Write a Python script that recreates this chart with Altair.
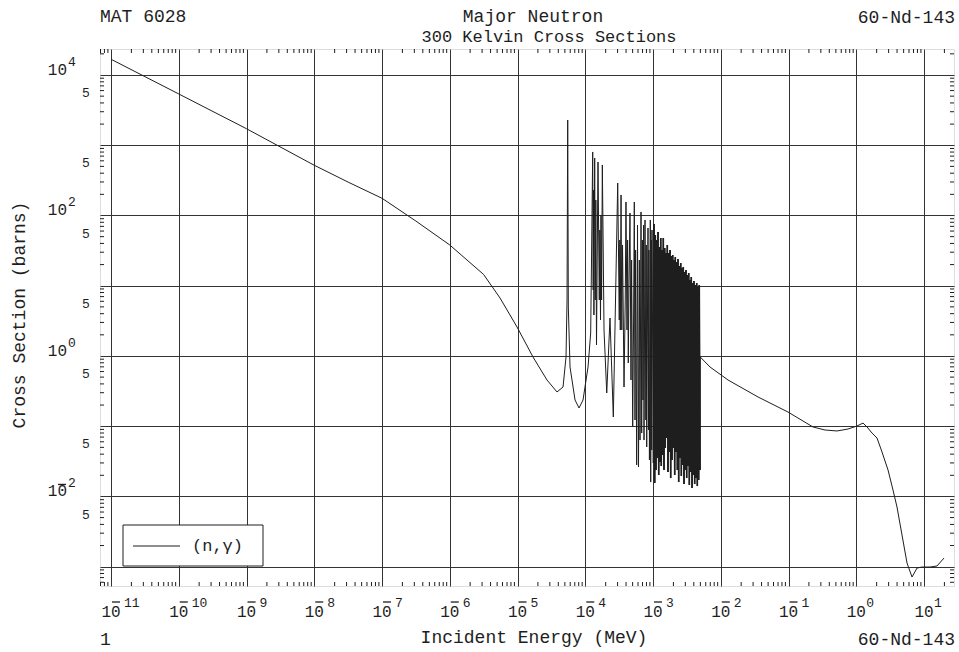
import altair as alt
import pandas as pd

FONT = "Liberation Mono"
INK = "#1e1e1e"

# ---- data: log10(E / MeV) and log10(sigma / barns) ----
# smooth 1/v region and first resonances
le_low = [-11.0, -10.0, -9.0, -8.0, -7.5, -7.0, -6.5, -6.0, -5.5, -5.258, -5.007, -4.771, -4.565,
          -4.417, -4.328, -4.284, -4.269, -4.259, -4.250, -4.225, -4.151, -4.092, -4.033,
          -3.959, -3.920]
ls_low = [4.224, 3.730, 3.235, 2.715, 2.475, 2.245, 1.921, 1.580, 1.160, 0.825, 0.412, -0.015, -0.342,
          -0.513, -0.442, -0.015, 0.797, 3.359, 0.697, -0.157, -0.627, -0.741, -0.627,
          -0.157, 0.327]
# first resonance cluster (~130-180 eV)
le_res1 = [-3.890, -3.883, -3.878, -3.872, -3.861, -3.852, -3.844, -3.834, -3.812, -3.793,
           -3.785, -3.775, -3.768, -3.759, -3.748, -3.723, -3.683]
ls_res1 = [2.904, 0.939, 2.363, 0.583, 2.818, 0.797, 2.220, 0.156, 2.761, 0.797,
           1.793, 0.512, 2.007, 0.797, 2.719, 0.370, -0.527]
# second resonance cluster (~230 eV - 1 keV)
le_res2 = [-3.635, -3.586, -3.521, -3.498, -3.490, -3.483, -3.472, -3.461, -3.450, -3.428,
           -3.410, -3.399, -3.384, -3.375, -3.365, -3.354, -3.340, -3.325, -3.316, -3.300,
           -3.288, -3.276, -3.266, -3.257, -3.241, -3.229, -3.214, -3.202, -3.192, -3.177,
           -3.167, -3.157, -3.148, -3.139, -3.133, -3.118, -3.106, -3.100, -3.093, -3.074,
           -3.067, -3.061, -3.053, -3.040, -3.034, -3.025, -3.019, -3.015, -2.996]
ls_res2 = [0.540, -0.869, 2.462, 0.512, 1.651, 0.370, 2.292, 0.370, 1.580, -0.442,
           0.797, 2.192, 0.370, 1.651, -0.100, 1.081, 2.035, -0.342, 1.366, -1.011,
           0.370, 2.192, -0.912, 1.508, -1.552, 1.864, -1.581, 1.366, -1.197, 2.050,
           -1.097, 1.651, -0.627, 1.864, -1.197, 1.936, -0.912, 1.580, -1.296, 1.822,
           -1.054, 1.508, -1.481, 1.936, -1.795, 1.651, -1.339, 1.793, -1.524]
# dense resonance band (1 keV - 5 keV)
le_dense = [-2.985, -2.975, -2.966, -2.956, -2.946, -2.937, -2.926, -2.916, -2.907, -2.897,
            -2.886, -2.878, -2.867, -2.857, -2.848, -2.838, -2.827, -2.819, -2.808, -2.798,
            -2.789, -2.779, -2.768, -2.760, -2.749, -2.739, -2.730, -2.720, -2.709, -2.700,
            -2.690, -2.680, -2.671, -2.661, -2.650, -2.641, -2.631, -2.621, -2.612, -2.602,
            -2.591, -2.582, -2.572, -2.562, -2.553, -2.543, -2.532, -2.523, -2.513, -2.503,
            -2.494, -2.483, -2.473, -2.464, -2.454, -2.444, -2.435, -2.424, -2.414, -2.405,
            -2.395, -2.385, -2.376, -2.365, -2.355, -2.346, -2.336, -2.326, -2.317, -2.306]
ls_dense = [1.879, -1.809, 1.722, -1.624, 1.651, -1.453, 1.765, -1.695, 1.551, -1.510,
            1.679, -1.567, 1.508, -1.410, 1.679, -1.624, 1.537, -1.310, 1.466, -1.168,
            1.580, -1.652, 1.466, -1.367, 1.508, -1.738, 1.423, -1.481, 1.437, -1.310,
            1.366, -1.695, 1.409, -1.367, 1.338, -1.624, 1.380, -1.795, 1.281, -1.453,
            1.323, -1.709, 1.252, -1.552, 1.267, -1.823, 1.195, -1.624, 1.224, -1.738,
            1.153, -1.567, 1.181, -1.837, 1.081, -1.652, 1.124, -1.880, 1.039, -1.695,
            1.067, -1.823, 1.010, -1.738, 1.039, -1.851, 0.982, -1.766, 1.010, -1.624]
# fast region
le_fast = [-2.302, -2.159, -1.893, -1.450, -1.008, -0.639, -0.461, -0.284, -0.122, 0.011,
           0.100, 0.159, 0.232, 0.306, 0.380, 0.469, 0.542, 0.601, 0.675, 0.749,
           0.823, 0.897, 0.970, 1.088, 1.192, 1.295]
ls_fast = [-0.015, -0.157, -0.342, -0.584, -0.798, -1.011, -1.054, -1.068, -1.040, -0.997,
           -0.955, -1.011, -1.097, -1.168, -1.367, -1.624, -1.908, -2.150, -2.549, -2.948,
           -3.147, -3.019, -3.005, -3.005, -2.990, -2.877]

x_decades = list(range(-11, 2))          # gridlines / labels on energy axis
y_decades = list(range(-3, 5))           # gridlines on cross-section axis
y_label_exps = [4, 2, 0, -2]             # labelled decades on y
y_five_vals = [5e3, 5e2, 5e1, 5e0, 5e-1, 5e-2, 5e-3]

X_DOMAIN = [6.88e-12, 27.7]
Y_DOMAIN = [5.31e-4, 2.345e4]
W, H = 854, 537

le_all = le_low + le_res1 + le_res2 + le_dense + le_fast
ls_all = ls_low + ls_res1 + ls_res2 + ls_dense + ls_fast
curve_df = pd.DataFrame({"i": list(range(len(le_all))), "le": le_all, "ls": ls_all})
dense_df = pd.DataFrame({"i": list(range(len(le_dense))), "le": le_dense, "ls": ls_dense})

xs = alt.Scale(type="log", domain=X_DOMAIN, nice=False)
ys = alt.Scale(type="log", domain=Y_DOMAIN, nice=False)
xaxis = alt.Axis(values=[10.0 ** e for e in x_decades], grid=True, labels=False, ticks=False,
                 domain=False, title=None, gridColor="#333333", gridWidth=1, gridOpacity=1)
yaxis = alt.Axis(values=[10.0 ** e for e in y_decades], grid=True, labels=False, ticks=False,
                 domain=False, title=None, gridColor="#333333", gridWidth=1, gridOpacity=1)


def X(f):
    return alt.X(f, scale=xs, axis=xaxis)


def Y(f):
    return alt.Y(f, scale=ys, axis=yaxis)


curve = alt.Chart(curve_df).transform_calculate(
    E="pow(10, datum.le)", S="pow(10, datum.ls)"
).mark_line(color=INK, strokeWidth=1, clip=True).encode(
    x=X("E:Q"), y=Y("S:Q"), order="i:Q"
)
dense = alt.Chart(dense_df).transform_calculate(
    E="pow(10, datum.le)", S="pow(10, datum.ls)"
).mark_line(color=INK, strokeWidth=1.6, clip=True).encode(
    x=X("E:Q"), y=Y("S:Q"), order="i:Q"
)

# minor ticks inside the frame
x_minor = [m * 10.0 ** e for e in range(-12, 2) for m in range(2, 10)
           if X_DOMAIN[0] <= m * 10.0 ** e <= X_DOMAIN[1]]
y_minor = [m * 10.0 ** e for e in range(-4, 5) for m in range(2, 10)
           if Y_DOMAIN[0] <= m * 10.0 ** e <= Y_DOMAIN[1]]
xm_df = pd.DataFrame({"v": x_minor})
ym_df = pd.DataFrame({"v": y_minor})
tick_b = alt.Chart(xm_df).mark_rule(color=INK).encode(x=X("v:Q"), y=alt.value(H - 4), y2=alt.value(H))
tick_t = alt.Chart(xm_df).mark_rule(color=INK).encode(x=X("v:Q"), y=alt.value(0), y2=alt.value(4))
tick_l = alt.Chart(ym_df).mark_rule(color=INK).encode(y=Y("v:Q"), x=alt.value(0), x2=alt.value(4))
tick_r = alt.Chart(ym_df).mark_rule(color=INK).encode(y=Y("v:Q"), x=alt.value(W - 4), x2=alt.value(W))

MINUS = "M-1,0L1,0"

# x tick labels: 10 with superscript exponent
xl_df = pd.DataFrame({"e": x_decades})
xl = alt.Chart(xl_df).transform_calculate(v="pow(10, datum.e)", ex="''+abs(datum.e)")
x_base = xl.mark_text(text="10", font=FONT, fontSize=16, color=INK, align="center",
                      baseline="alphabetic").encode(x=X("v:Q"), y=alt.value(H + 31))
x_exp_pos = xl.transform_filter("datum.e >= 0").mark_text(
    font=FONT, fontSize=13, color=INK, align="left", baseline="alphabetic", dx=10
).encode(x=X("v:Q"), y=alt.value(H + 21), text="ex:N")
x_exp_neg = xl.transform_filter("datum.e < 0").mark_text(
    font=FONT, fontSize=13, color=INK, align="left", baseline="alphabetic", dx=13
).encode(x=X("v:Q"), y=alt.value(H + 21), text="ex:N")
x_minus = xl.transform_filter("datum.e < 0").mark_point(
    shape=MINUS, size=64, filled=False, stroke=INK, strokeWidth=1.3, opacity=1, xOffset=5
).encode(x=X("v:Q"), y=alt.value(H + 16))

# y tick labels
yl_df = pd.DataFrame({"e": y_label_exps})
yl = alt.Chart(yl_df).transform_calculate(v="pow(10, datum.e)", ex="''+abs(datum.e)")
y_base = yl.mark_text(text="10", font=FONT, fontSize=16, color=INK, align="right",
                      baseline="alphabetic").encode(y=Y("v:Q"), x=alt.value(-33))
y_exp = yl.mark_text(font=FONT, fontSize=13, color=INK, align="left", baseline="alphabetic",
                     dy=-9).encode(y=Y("v:Q"), x=alt.value(-32), text="ex:N")
y_minus = yl.transform_filter("datum.e < 0").mark_point(
    shape=MINUS, size=64, filled=False, stroke=INK, strokeWidth=1.3, opacity=1, yOffset=-12
).encode(y=Y("v:Q"), x=alt.value(-38))
y_five = alt.Chart(pd.DataFrame({"v": y_five_vals})).mark_text(
    text="5", font=FONT, fontSize=13, color=INK, align="center", baseline="middle", dy=-3
).encode(y=Y("v:Q"), x=alt.value(-14))

one = alt.Data(values=[{}])


def label(txt, x, y, align="left", size=18, angle=0):
    kw = dict(text=txt, font=FONT, fontSize=size, color=INK, align=align, baseline="alphabetic")
    if angle:
        kw["angle"] = angle
        kw["baseline"] = "middle"
    return alt.Chart(one).mark_text(**kw).encode(x=alt.value(x), y=alt.value(y))


titles = [
    label("MAT 6028", 0, -27),
    label("Major Neutron", 433, -27, align="center"),
    label("300 Kelvin Cross Sections", 449, -7, align="center", size=17),
    label("60-Nd-143", 855, -26, align="right"),
    label("1", 0, 596),
    label("Incident Energy (MeV)", 434, 594, align="center"),
    label("60-Nd-143", 855, 596, align="right"),
    label("Cross Section (barns)", -80, 266, align="center", angle=270),
]

# legend
leg_box = alt.Chart(one).mark_rect(fill="white", stroke=INK, strokeWidth=1).encode(
    x=alt.value(23), x2=alt.value(163), y=alt.value(476), y2=alt.value(517))
leg_line = alt.Chart(one).mark_rule(color=INK, strokeWidth=1).encode(
    x=alt.value(33), x2=alt.value(80), y=alt.value(497))
leg_text = alt.Chart(one).mark_text(text="(n,\u03b3)", font=FONT, fontSize=17, color=INK,
                                    align="left", baseline="middle").encode(
    x=alt.value(92), y=alt.value(497))

chart = alt.layer(
    tick_b, tick_t, tick_l, tick_r,
    leg_box, leg_line, leg_text,
    curve, dense,
    x_base, x_exp_pos, x_exp_neg, x_minus,
    y_base, y_exp, y_minus, y_five,
    *titles,
).properties(
    width=W, height=H,
    autosize=alt.AutoSizeParams(type="none"),
    padding={"left": 100, "top": 49, "right": 5, "bottom": 66},
).configure_view(stroke=INK, strokeWidth=1.2).configure(background="white")

chart.save("out.html", embed_options={"renderer": "svg", "actions": False})
